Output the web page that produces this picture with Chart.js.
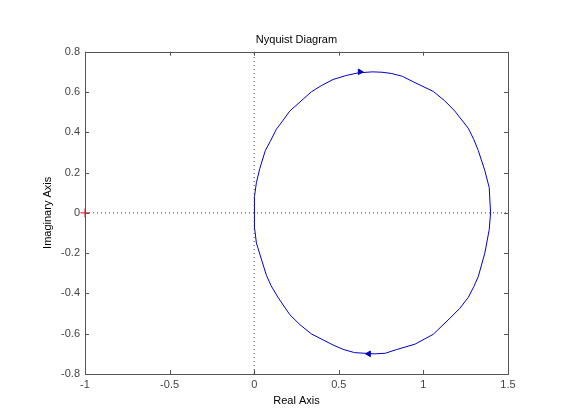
<!DOCTYPE html>
<html lang="en">
<head>
  <meta charset="UTF-8" />
  <title>Nyquist Diagram</title>
  <script src="https://cdn.jsdelivr.net/npm/chart.js"></script>
  <style>
    body {
      margin: 0;
      background: #fff;
    }
    canvas {
      display: block;
    }
  </style>
</head>
<body>
  <canvas id="nyq" width="561" height="420"></canvas>

  <script>
    // curve, starting at w = 0 and going through the lower half
    const re = [1.397, 1.389, 1.363, 1.324, 1.298, 1.265, 1.215, 1.157, 1.058, 0.95, 0.84, 0.775, 0.713,
                0.594, 0.53, 0.466, 0.338, 0.27, 0.21, 0.141, 0.10, 0.072, 0.013, 0.003, 0, 0.003,
                0.013, 0.033, 0.066, 0.095, 0.131, 0.165, 0.21, 0.338, 0.40, 0.466, 0.54, 0.614, 0.70,
                0.755, 0.811, 0.875, 0.939, 1.058, 1.125, 1.186, 1.265, 1.298, 1.324, 1.363, 1.389, 1.397];
    const im = [0, -0.083, -0.20, -0.317, -0.366, -0.42, -0.474, -0.523, -0.603, -0.652, -0.679, -0.697, -0.70,
                -0.694, -0.679, -0.656, -0.601, -0.555, -0.505, -0.42, -0.362, -0.31, -0.15, -0.08, 0, 0.08,
                0.15, 0.22, 0.31, 0.355, 0.415, 0.453, 0.505, 0.601, 0.633, 0.662, 0.681, 0.695, 0.70,
                0.698, 0.692, 0.678, 0.651, 0.603, 0.557, 0.505, 0.42, 0.364, 0.31, 0.21, 0.125, 0];

    // direction arrows: [re, im, rotation]
    const arrowRe = [0.625, 0.677];
    const arrowIm = [0.70, -0.70];
    const arrowRot = [90, 270];

    const critical = { x: -1, y: 0 };

    const xTicks = [-1, -0.5, 0, 0.5, 1, 1.5];
    const xLabels = ["-1", "-0.5", "0", "0.5", "1", "1.5"];
    const yTicks = [-0.8, -0.6, -0.4, -0.2, 0, 0.2, 0.4, 0.6, 0.8];
    const yLabels = ["-0.8", "-0.6", "-0.4", "-0.2", "0", "0.2", "0.4", "0.6", "0.8"];

    const xMin = -1, xMax = 1.5, yMin = -0.8, yMax = 0.8;

    const curve = re.map((v, i) => ({ x: v, y: im[i] }));
    const arrows = arrowRe.map((v, i) => ({ x: v, y: arrowIm[i] }));

    const FONT = "'Liberation Sans', Arial, sans-serif";

    // matlab style box with inward ticks
    const boxPlugin = {
      id: "box",
      afterDraw(chart) {
        const { ctx, chartArea: a, scales } = chart;
        const len = 4;
        ctx.save();
        ctx.strokeStyle = "#555";
        ctx.lineWidth = 1;
        ctx.beginPath();
        xTicks.forEach(v => {
          const px = Math.round(scales.x.getPixelForValue(v)) + 0.5;
          ctx.moveTo(px, a.bottom);
          ctx.lineTo(px, a.bottom - len);
          ctx.moveTo(px, a.top);
          ctx.lineTo(px, a.top + len);
        });
        yTicks.forEach(v => {
          const py = Math.round(scales.y.getPixelForValue(v)) + 0.5;
          ctx.moveTo(a.left, py);
          ctx.lineTo(a.left + len, py);
          ctx.moveTo(a.right, py);
          ctx.lineTo(a.right - len, py);
        });
        ctx.stroke();
        ctx.strokeRect(Math.round(a.left) + 0.5, Math.round(a.top) + 0.5,
          Math.round(a.right - a.left), Math.round(a.bottom - a.top));
        ctx.restore();
      }
    };

    const dotted = {
      borderColor: "#444",
      borderWidth: 1,
      borderDash: [1, 3],
      pointRadius: 0,
      showLine: true,
      fill: false
    };

    new Chart(document.getElementById("nyq"), {
      type: "scatter",
      data: {
        datasets: [
          Object.assign({ data: [{ x: xMin, y: 0 }, { x: xMax, y: 0 }] }, dotted),
          Object.assign({ data: [{ x: 0, y: yMin }, { x: 0, y: yMax }] }, dotted),
          {
            data: [critical],
            pointStyle: "cross",
            pointRadius: 4.5,
            borderColor: "#d01010",
            borderWidth: 1,
            clip: false
          },
          {
            data: curve,
            showLine: true,
            borderColor: "#0000c8",
            borderWidth: 1,
            pointRadius: 0,
            tension: 0,
            fill: false
          },
          {
            data: arrows,
            pointStyle: "triangle",
            pointRadius: 3.2,
            rotation: arrowRot,
            backgroundColor: "#0000c8",
            borderColor: "#0000c8",
            borderWidth: 1
          }
        ]
      },
      options: {
        responsive: false,
        animation: false,
        events: [],
        layout: {
          padding: { left: 41, right: 53, top: 0, bottom: 12 }
        },
        plugins: {
          legend: { display: false },
          tooltip: { enabled: false },
          title: {
            display: true,
            text: "Nyquist Diagram",
            color: "#000",
            fullSize: false,
            font: { family: FONT, size: 11, weight: "normal" },
            padding: { top: 33, bottom: 5.5 }
          }
        },
        scales: {
          x: {
            type: "linear",
            min: xMin,
            max: xMax,
            grid: { display: false, drawTicks: false },
            border: { display: false },
            afterBuildTicks: s => { s.ticks = xTicks.map(v => ({ value: v })); },
            afterFit: s => { s.height = 34; },
            ticks: {
              color: "#444",
              padding: 4,
              maxRotation: 0,
              font: { family: FONT, size: 11 },
              callback: (v, i) => xLabels[i]
            },
            title: {
              display: true,
              text: "Real Axis",
              color: "#000",
              padding: 0,
              font: { family: FONT, size: 11 }
            }
          },
          y: {
            type: "linear",
            min: yMin,
            max: yMax,
            grid: { display: false, drawTicks: false },
            border: { display: false },
            afterBuildTicks: s => { s.ticks = yTicks.map(v => ({ value: v })); },
            afterFit: s => { s.width = 44; },
            ticks: {
              color: "#444",
              padding: 5,
              font: { family: FONT, size: 11 },
              callback: (v, i) => yLabels[i]
            },
            title: {
              display: true,
              text: "Imaginary Axis",
              color: "#000",
              padding: 0,
              font: { family: FONT, size: 11 }
            }
          }
        }
      },
      plugins: [boxPlugin]
    });
  </script>
</body>
</html>
